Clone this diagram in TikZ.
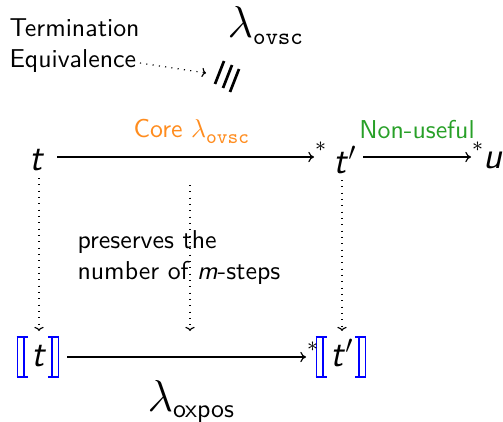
\documentclass[tikz,border=0pt]{standalone}
\usepackage{fontspec}
\renewcommand{\familydefault}{\sfdefault}
\usetikzlibrary{arrows.meta}
\definecolor{coreorange}{RGB}{255,140,30}
\definecolor{nugreen}{RGB}{40,160,40}
\newcommand{\tvar}{\textit{t}}
\newcommand{\bbrule}{\rule{0.045em}{1.12em}}
\newcommand{\bbhor}{\rule{0.3em}{0.045em}}
\newcommand{\lbb}{\textcolor{blue}{\raisebox{-0.3em}{\rlap{\bbhor}\rlap{\raisebox{1.075em}{\bbhor}}\bbrule\kern0.13em\bbrule}}\kern0.18em}
\newcommand{\rbb}{\kern0.12em\textcolor{blue}{\raisebox{-0.3em}{\bbrule\kern0.13em\bbrule\llap{\bbhor}\llap{\raisebox{1.075em}{\bbhor}}}}}
\newcommand{\bb}[1]{\lbb#1\rbb}
\newcommand{\ttsub}[2]{{\fontsize{#2}{#2}\selectfont\ttfamily #1}}
\tikzset{
  term/.style={font=\Large, inner sep=1pt},
  redarrow/.style={draw, line width=0.45pt, -{To[length=2.2pt,width=4pt]}},
  dotarrow/.style={draw, dotted, line width=0.45pt, -{To[length=1.6pt,width=3.6pt]}},
  lbl/.style={font=\normalsize, inner sep=0pt},
  slashline/.style={line width=1.05pt},
  starlbl/.style={anchor=west, inner sep=0pt, font=\large, xshift=0.2pt, yshift=1.8pt}
}
\begin{document}
\begin{tikzpicture}[x=0.387pt, y=-0.387pt]
\useasboundingbox (0,0) rectangle (503,422);
% top labels
\node[lbl, align=left, anchor=west] (te) at (9,46) {Termination\\Equivalence};
\coordinate (eqend) at (140,63);
\node[inner sep=0pt, anchor=base west] (lovsc) at (227,38) {\fontsize{17}{17}\selectfont$\lambda$\raisebox{-2.5pt}{\ttsub{ovsc}{9.2}}};
\coordinate (slashtip) at (206,73);
\draw[dotarrow] (eqend) -- (slashtip);
\coordinate (s1a) at (224,61); \coordinate (s1b) at (215,84);
\coordinate (s2a) at (232,65); \coordinate (s2b) at (223,88);
\coordinate (s3a) at (239,69); \coordinate (s3b) at (230,92);
\draw[slashline] (s1a) -- (s1b);
\draw[slashline] (s2a) -- (s2b);
\draw[slashline] (s3a) -- (s3b);
% top row
\node[term] (t) at (37,160) {\tvar};
\node[term] (tp) at (345,160) {\tvar$'$};
\node[term] (u) at (493,160) {\textit{u}};
\coordinate (a1s) at (57,157); \coordinate (a1e) at (314,157);
\coordinate (a2s) at (363,157); \coordinate (a2e) at (471,157);
\draw[redarrow] (a1s) -- (a1e) node[starlbl] (st1) {$^*$};
\draw[redarrow] (a2s) -- (a2e) node[starlbl] (st2) {$^*$};
\node[lbl, text=coreorange, anchor=base west] (core) at (133,138) {Core $\lambda$\raisebox{-2pt}{\ttsub{ovsc}{7.8}}};
\node[lbl, text=nugreen] (nonuse) at (417,130) {Non-useful};
% dotted verticals
\coordinate (d1s) at (39,178); \coordinate (d1e) at (39,331);
\coordinate (d2s) at (190,185); \coordinate (d2e) at (190,331);
\coordinate (d3s) at (342,180); \coordinate (d3e) at (342,331);
\draw[dotarrow] (d1s) -- (d1e);
\draw[dotarrow] (d2s) -- (d2e);
\draw[dotarrow] (d3s) -- (d3e);
\node[lbl, align=left, anchor=west] (pres) at (77,258) {preserves the\\number of \textit{m}-steps};
% bottom row
\node[term] (bt) at (38,357) {\bb{\tvar}};
\node[term] (btp) at (341,357) {\bb{\tvar$'$}};
\coordinate (a3s) at (67,357); \coordinate (a3e) at (306,357);
\draw[redarrow] (a3s) -- (a3e) node[starlbl] (st3) {$^*$};
\node[inner sep=0pt, anchor=base west] (loxpos) at (147,411) {\fontsize{17}{17}\selectfont$\lambda$\raisebox{-2.5pt}{\fontsize{10}{10}\selectfont oxpos}};
\end{tikzpicture}
\end{document}
